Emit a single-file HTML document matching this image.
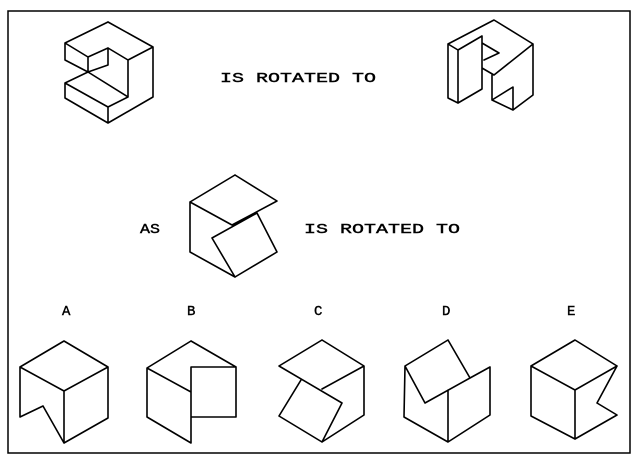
<!DOCTYPE html>
<html><head><style>body{margin:0;background:#fff}svg{display:block}</style></head><body>
<svg width="638" height="464" viewBox="0 0 638 464" xmlns="http://www.w3.org/2000/svg">
<rect x="0" y="0" width="638" height="464" fill="#fff"/>
<rect x="8" y="11" width="622" height="442" fill="none" stroke="#000" stroke-width="1.5"/>
<g fill="none" stroke="#000" stroke-width="1.6" stroke-linejoin="round" stroke-linecap="round">
<path d="M108,22 L153,47 L153,97 L108,123 L65,98 L65,83 L88,72 M108,22 L65,43 L65,60 L88,72 M65,43 L88,57 L88,72 M88,57 L108,48 L108,65 L88,72 M153,47 L128,60 L128,97 L108,107 L108,123 M65,83 L108,107 M88,72 L128,97 M108,48 L128,60"/>
<path d="M448,44 L494,20 L533,44 L533,95 L513,110 L513,87 L492,100 L492,75 M448,44 L458,50 L458,103 L448,98 Z M458,50 L482,36 L482,68 L494,75 L533,44 M482,43 L499,53 L484,60 M458,103 L482,89 L482,68 M492,100 L513,110"/>
<path d="M235,175 L190,202 L190,252 L235,277 L277,252 L257,213 M235,175 L277,201 L232,225 L190,202 M212,238 L257,213 M212,238 L235,277"/>
<path d="M64,341 L20,367 L64,391 L108,367 Z M64,391 L64,443 L108,418 L108,367 M20,367 L20,417 L43,406 L64,443"/>
<path d="M191,341 L147,368 L191,392 M191,341 L236,367 L191,367 L191,443 L147,417 L147,368 M236,367 L236,417 L191,417"/>
<path d="M322,340 L279,366 L342,403 L322,442 L279,416 L301,380 M322,340 L364,366 L322,389 M364,366 L364,415 L322,442"/>
<path d="M448,340 L405,366 L425,403 L470,378 Z M470,378 L490,367 L490,415 L448,442 L404,417 L405,366 M448,390 L448,442"/>
<path d="M575,340 L531,366 L575,390 L617,366 Z M575,390 L575,439 L531,416 L531,366 M575,439 L617,415 L597,403 L617,366"/>
</g>
<g font-family="Liberation Mono, monospace" font-size="14" fill="#000" stroke="#000" stroke-width="0.4">
<text x="220" y="82" textLength="156" lengthAdjust="spacingAndGlyphs">IS ROTATED TO</text>
<text x="140" y="233" textLength="20" lengthAdjust="spacingAndGlyphs">AS</text>
<text x="304" y="233" textLength="156" lengthAdjust="spacingAndGlyphs">IS ROTATED TO</text>
<text x="62" y="315">A</text>
<text x="187" y="315">B</text>
<text x="314" y="315">C</text>
<text x="442" y="315">D</text>
<text x="567" y="315">E</text>
</g>
</svg>
</body></html>
